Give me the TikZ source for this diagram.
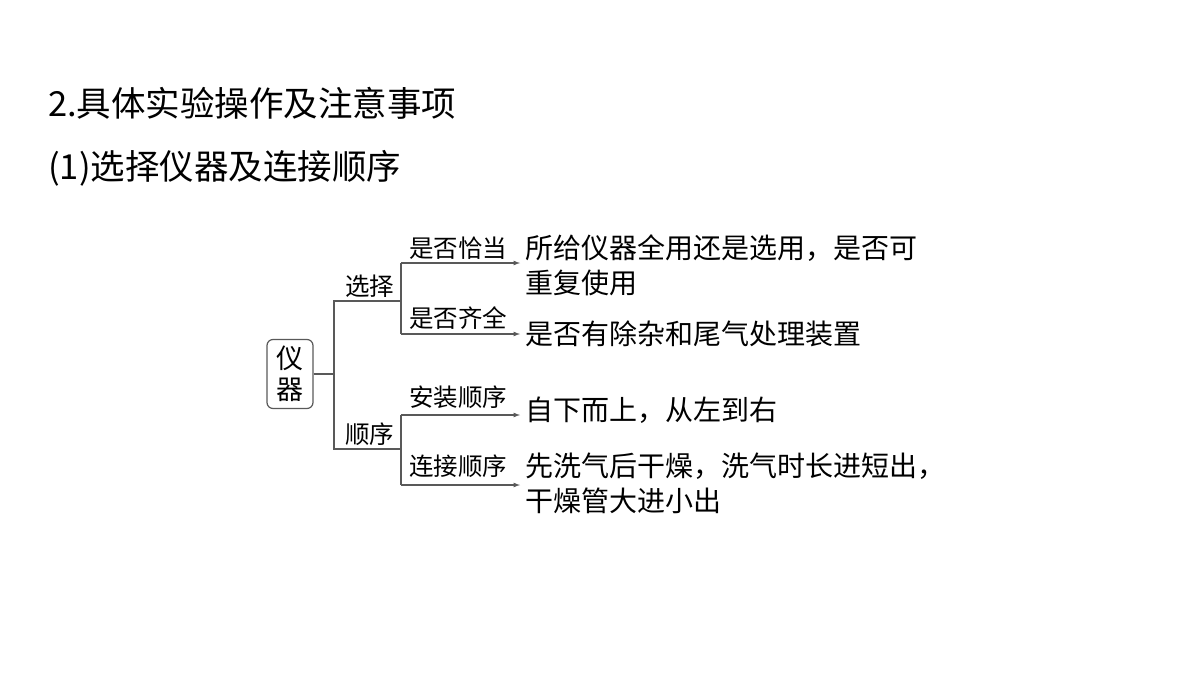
\documentclass[tikz,border=0pt]{standalone}
\usepackage{fontspec}
\setmainfont{Liberation Serif}
\newfontfamily\cjk{Noto Sans CJK SC}
\usetikzlibrary{positioning}
\tikzset{
  branch/.style={draw=black!65, line width=1.2pt},
  arr/.style={branch, -latex},
  lab/.style={font=\cjk\fontsize{24.5}{24}\selectfont, inner sep=0, anchor=west},
  txt/.style={font=\cjk\fontsize{28}{35}\selectfont, inner sep=0, anchor=west, align=left},
}
\begin{document}
\begin{tikzpicture}[x=1pt, y=-1pt]
      \useasboundingbox (0,0) rectangle (1200,675);
      \node[font=\cjk\fontsize{34.5}{34}\selectfont, inner sep=0, anchor=west] (title) at (48,103) {2.具体实验操作及注意事项};
      \node[font=\cjk\fontsize{34.5}{34}\selectfont, inner sep=0, anchor=west] (sub) at (48,168) {(1)选择仪器及连接顺序};
      \node[draw=black!65, line width=1.2pt, rounded corners=6pt, minimum width=46pt, minimum height=69pt, align=center, inner sep=0,
            font=\cjk\fontsize{27}{31}\selectfont] (root) at (290,374) {仪\\器};
      \coordinate (j1) at (334,374);
      \coordinate (s1) at (334,301);  \coordinate (s2) at (401,301);
      \coordinate (o1) at (334,449);  \coordinate (o2) at (401,449);
      \coordinate (a1) at (401,263);  \coordinate (a2) at (520,263);
      \coordinate (b1) at (401,334);  \coordinate (b2) at (520,334);
      \coordinate (c1) at (401,415);  \coordinate (c2) at (520,415);
      \coordinate (d1) at (401,485);  \coordinate (d2) at (520,485);
      \draw[branch] (root.east) -- (j1);
      \draw[branch] (s2) -- (s1) -- (o1) -- (o2);
      \draw[branch] (a1) -- (b1);
      \draw[branch] (c1) -- (d1);
      \draw[arr] (a1) -- (a2);
      \draw[arr] (b1) -- (b2);
      \draw[arr] (c1) -- (c2);
      \draw[arr] (d1) -- (d2);
      \node[lab] (sel) at (345,286) {选择};
      \node[lab] (ord) at (345,434) {顺序};
      \node[lab] (la) at (409,248) {是否恰当};
      \node[lab] (lb) at (409,318) {是否齐全};
      \node[lab] (lc) at (409,397) {安装顺序};
      \node[lab] (ld) at (409,466) {连接顺序};
      \node[txt] (ta) at (525,265) {所给仪器全用还是选用，是否可\\重复使用};
      \node[txt] (tb) at (525,334) {是否有除杂和尾气处理装置};
      \node[txt] (tc) at (525,410) {自下而上，从左到右};
      \node[txt] (td) at (525,483) {先洗气后干燥，洗气时长进短出，\\干燥管大进小出};
\end{tikzpicture}
\end{document}
